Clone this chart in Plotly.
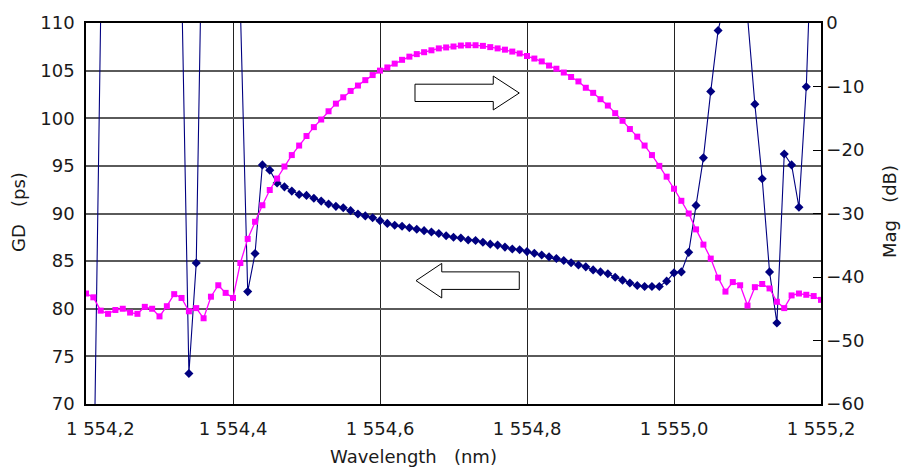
import plotly.graph_objects as go

wavelength = [
    1554.20, 1554.21, 1554.22, 1554.23, 1554.24, 1554.25, 1554.26, 1554.27, 1554.28, 1554.29,
    1554.30, 1554.31, 1554.32, 1554.33, 1554.34, 1554.35, 1554.36, 1554.37, 1554.38, 1554.39,
    1554.40, 1554.41, 1554.42, 1554.43, 1554.44, 1554.45, 1554.46, 1554.47, 1554.48, 1554.49,
    1554.50, 1554.51, 1554.52, 1554.53, 1554.54, 1554.55, 1554.56, 1554.57, 1554.58, 1554.59,
    1554.60, 1554.61, 1554.62, 1554.63, 1554.64, 1554.65, 1554.66, 1554.67, 1554.68, 1554.69,
    1554.70, 1554.71, 1554.72, 1554.73, 1554.74, 1554.75, 1554.76, 1554.77, 1554.78, 1554.79,
    1554.80, 1554.81, 1554.82, 1554.83, 1554.84, 1554.85, 1554.86, 1554.87, 1554.88, 1554.89,
    1554.90, 1554.91, 1554.92, 1554.93, 1554.94, 1554.95, 1554.96, 1554.97, 1554.98, 1554.99,
    1555.00, 1555.01, 1555.02, 1555.03, 1555.04, 1555.05, 1555.06, 1555.07, 1555.08, 1555.09,
    1555.10, 1555.11, 1555.12, 1555.13, 1555.14, 1555.15, 1555.16, 1555.17, 1555.18, 1555.19,
    1555.20,
]

mag_db = [
    -42.6, -43.2, -45.3, -45.8, -45.2, -45.0, -45.6, -45.8, -44.7, -45.0,
    -46.2, -44.6, -42.7, -43.3, -45.4, -44.9, -46.5, -43.1, -41.3, -42.5,
    -43.3, -37.8, -34.0, -31.3, -28.7, -26.3, -24.5, -22.6, -20.8, -19.3,
    -17.8, -16.4, -15.2, -13.9, -12.7, -11.7, -10.7, -9.85, -9.0, -8.2,
    -7.5, -7.0, -6.4, -5.8, -5.3, -4.9, -4.6, -4.3, -4.0, -3.85,
    -3.7, -3.55, -3.5, -3.5, -3.6, -3.8, -4.0, -4.2, -4.5, -4.8,
    -5.2, -5.6, -6.05, -6.7, -7.2, -7.8, -8.5, -9.2, -10.2, -11.0,
    -12.0, -13.0, -14.2, -15.4, -16.7, -17.9, -19.3, -20.8, -22.5, -24.2,
    -26.1, -28.0, -30.0, -32.5, -34.9, -37.1, -40.1, -42.3, -40.8, -41.3,
    -44.5, -41.6, -41.1, -41.8, -43.9, -44.9, -42.9, -42.6, -42.8, -43.0,
    -43.6,
]

gd_ps = [
    62, 58, 111, 135, 140, 140, 140, 140, 140, 140,
    140, 135, 125, 114.7, 73.2, 84.8, 130, 140, 140, 140,
    130, 111.7, 81.8, 85.8, 95.1, 94.55, 93.2, 92.8, 92.35, 92.0,
    91.9, 91.6, 91.3, 91.0, 90.75, 90.6, 90.3, 89.95, 89.75, 89.55,
    89.25, 88.96, 88.76, 88.66, 88.5, 88.35, 88.2, 88.05, 87.9, 87.67,
    87.5, 87.42, 87.22, 87.16, 86.98, 86.78, 86.68, 86.47, 86.27, 86.2,
    86.0, 85.82, 85.65, 85.45, 85.27, 85.07, 84.83, 84.6, 84.4, 84.08,
    83.87, 83.67, 83.3, 83.0, 82.7, 82.44, 82.33, 82.33, 82.33, 82.9,
    83.77, 83.87, 85.92, 90.85, 95.84, 102.82, 109.22, 112.5, 125, 120,
    110.5, 101.48, 93.65, 83.87, 78.5, 96.25, 95.1, 90.65, 103.3, 125,
    130,
]

x_tickvals = [1554.2, 1554.4, 1554.6, 1554.8, 1555.0, 1555.2]
x_ticktext = ["\u00a0\u00a0\u00a0\u00a0\u00a01 554,2", "1 554,4", "1 554,6",
              "1 554,8", "1 555,0", "1 555,2"]
gd_ticks = [70, 75, 80, 85, 90, 95, 100, 105, 110]
mag_ticks = [-60, -50, -40, -30, -20, -10, 0]

FONT = "DejaVu Sans, Liberation Sans, Arial"
TXT = "#1a1a1a"

fig = go.Figure()

fig.add_trace(go.Scatter(
    x=wavelength, y=mag_db, yaxis="y2", mode="lines+markers",
    line=dict(color="#ff00ff", width=1.3),
    marker=dict(symbol="square", size=6, color="#ff00ff"),
    showlegend=False,
))
fig.add_trace(go.Scatter(
    x=wavelength, y=gd_ps, yaxis="y", mode="lines+markers",
    line=dict(color="#000080", width=1.1),
    marker=dict(symbol="diamond", size=7, color="#000080"),
    showlegend=False,
))

# block arrows (outline), in data coordinates of x / y (GD)
right_arrow = ("M 1554.6476 103.576 L 1554.7541 103.576 L 1554.7541 104.43 "
               "L 1554.7895 102.65 L 1554.7541 100.87 L 1554.7541 101.76 "
               "L 1554.6476 101.76 Z")
left_arrow = ("M 1554.7895 83.87 L 1554.684 83.87 L 1554.684 84.76 "
              "L 1554.649 82.95 L 1554.684 81.13 L 1554.684 82.03 "
              "L 1554.7895 82.03 Z")
for p in (right_arrow, left_arrow):
    fig.add_shape(type="path", path=p, xref="x", yref="y",
                  line=dict(color="black", width=1), fillcolor="white",
                  layer="above")

fig.update_layout(
    width=901, height=475,
    margin=dict(l=86, r=80, t=15, b=71),
    paper_bgcolor="white", plot_bgcolor="white",
    font=dict(family=FONT, size=18, color=TXT),
    xaxis=dict(
        range=[1554.2, 1555.2], tickvals=x_tickvals, ticktext=x_ticktext,
        showgrid=True, gridcolor="#222222", gridwidth=1.2,
        showline=True, linecolor="black", linewidth=1.5, mirror=True,
        ticks="outside", ticklen=8, tickcolor="rgba(0,0,0,0)",
        zeroline=False, tickfont=dict(family=FONT, size=18, color=TXT),
    ),
    yaxis=dict(
        range=[70, 110], tickvals=gd_ticks,
        showgrid=True, gridcolor="#5a5a5a", gridwidth=1.6,
        showline=True, linecolor="black", linewidth=1.5,
        ticks="outside", ticklen=6, tickcolor="rgba(0,0,0,0)",
        zeroline=False, tickfont=dict(family=FONT, size=18, color=TXT),
    ),
    yaxis2=dict(
        range=[-60, 0], tickvals=mag_ticks, overlaying="y", side="right",
        showgrid=False, showline=True, linecolor="black", linewidth=1.5,
        ticks="inside", ticklen=8, tickcolor="black", tickwidth=1,
        zeroline=False, tickfont=dict(family=FONT, size=18, color=TXT),
    ),
    annotations=[
        dict(text="GD\u00a0\u00a0\u00a0(ps)", xref="paper", yref="paper",
             x=-0.0912, y=0.504, textangle=-90, showarrow=False,
             xanchor="center", yanchor="middle", font=dict(size=18)),
        dict(text="Mag\u00a0\u00a0\u00a0(dB)", xref="paper", yref="paper",
             x=1.0939, y=0.504, textangle=-90, showarrow=False,
             xanchor="center", yanchor="middle", font=dict(size=18)),
        dict(text="Wavelength\u00a0\u00a0\u00a0(nm)", xref="paper", yref="paper",
             x=0.4449, y=-0.1388, showarrow=False,
             xanchor="center", yanchor="middle", font=dict(size=18)),
    ],
)

fig.write_html("out.html", config={"displayModeBar": False})
